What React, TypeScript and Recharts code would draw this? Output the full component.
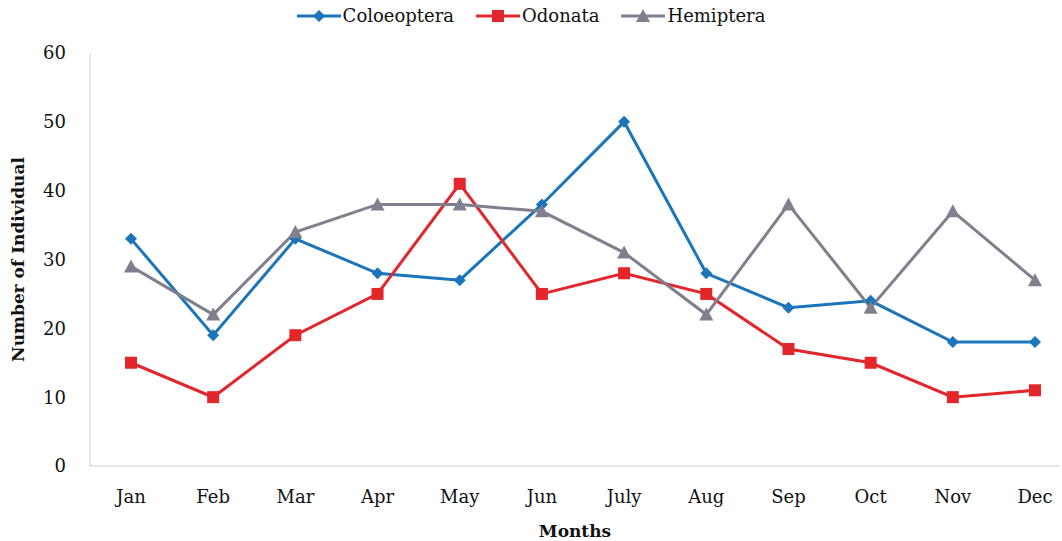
import React from "react"
import { LineChart, Line, XAxis, YAxis, Legend, Label } from "recharts"

const months = ["Jan", "Feb", "Mar", "Apr", "May", "Jun", "July", "Aug", "Sep", "Oct", "Nov", "Dec"]
const coleoptera = [33, 19, 33, 28, 27, 38, 50, 28, 23, 24, 18, 18]
const odonata = [15, 10, 19, 25, 41, 25, 28, 25, 17, 15, 10, 11]
const hemiptera = [29, 22, 34, 38, 38, 37, 31, 22, 38, 23, 37, 27]
const yTicks = [0, 10, 20, 30, 40, 50, 60]

const data = months.map((m, i) => ({
  month: m,
  coleoptera: coleoptera[i],
  odonata: odonata[i],
  hemiptera: hemiptera[i],
}))

const BLUE = "#1b75bb"
const RED = "#e2262b"
const GRAY = "#7f7f8e"
const FONT = "'DejaVu Serif', 'Liberation Serif', serif"

const Diamond = (props: any) => {
  const { cx, cy, fill } = props
  return <path d={`M${cx},${cy - 6} L${cx + 6},${cy} L${cx},${cy + 6} L${cx - 6},${cy} Z`} fill={fill} />
}

const Square = (props: any) => {
  const { cx, cy, fill } = props
  return <rect x={cx - 6} y={cy - 6} width={12} height={12} fill={fill} />
}

const Triangle = (props: any) => {
  const { cx, cy, fill } = props
  return <path d={`M${cx},${cy - 7} L${cx + 7},${cy + 6} L${cx - 7},${cy + 6} Z`} fill={fill} />
}

const series = [
  { key: "coleoptera", name: "Coloeoptera", color: BLUE, Dot: Diamond },
  { key: "odonata", name: "Odonata", color: RED, Dot: Square },
  { key: "hemiptera", name: "Hemiptera", color: GRAY, Dot: Triangle },
]

const LegendContent = () => (
  <div style={{ display: "flex", justifyContent: "center", gap: 22, fontFamily: FONT, fontSize: 18, color: "#111" }}>
    {series.map((s) => (
      <div key={s.key} style={{ display: "flex", alignItems: "center" }}>
        <svg width={44} height={16} style={{ marginRight: 2 }}>
          <line x1={0} y1={8} x2={44} y2={8} stroke={s.color} strokeWidth={3} />
          <s.Dot cx={22} cy={8} fill={s.color} />
        </svg>
        <span>{s.name}</span>
      </div>
    ))}
  </div>
)

export default function App() {
  return (
    <div style={{ position: "absolute", left: 0, top: 0, background: "#fff" }}>
      <LineChart width={1062} height={541} data={data} margin={{ top: 32, right: 2, bottom: 45, left: 0 }}>
        <Legend verticalAlign="top" content={<LegendContent />} wrapperStyle={{ top: 5, left: 0, width: 1062 }} />
        <XAxis
          dataKey="month"
          padding={{ left: 41, right: 25 }}
          stroke="#d0d0d0"
          tickLine={false}
          tick={{ fill: "#111", fontSize: 18, fontFamily: FONT }}
          tickMargin={18}
        >
          <Label value="Months" position="insideBottom" offset={-41} style={{ fill: "#111", fontSize: 17, fontWeight: "bold", fontFamily: FONT }} />
        </XAxis>
        <YAxis
          domain={[0, 60]}
          ticks={yTicks}
          width={90}
          stroke="#d0d0d0"
          tickLine={false}
          tick={{ fill: "#111", fontSize: 18, fontFamily: FONT }}
          tickMargin={18}
        >
          <Label value="Number of Individual" angle={-90} position="insideLeft" offset={18} style={{ textAnchor: "middle", fill: "#111", fontSize: 17, fontWeight: "bold", fontFamily: FONT }} />
        </YAxis>
        {series.map((s) => (
          <Line
            key={s.key}
            dataKey={s.key}
            name={s.name}
            stroke={s.color}
            strokeWidth={3}
            dot={(p: any) => <s.Dot key={`${s.key}-${p.index}`} cx={p.cx} cy={p.cy} fill={s.color} />}
            activeDot={false}
            isAnimationActive={false}
          />
        ))}
      </LineChart>
    </div>
  )
}
